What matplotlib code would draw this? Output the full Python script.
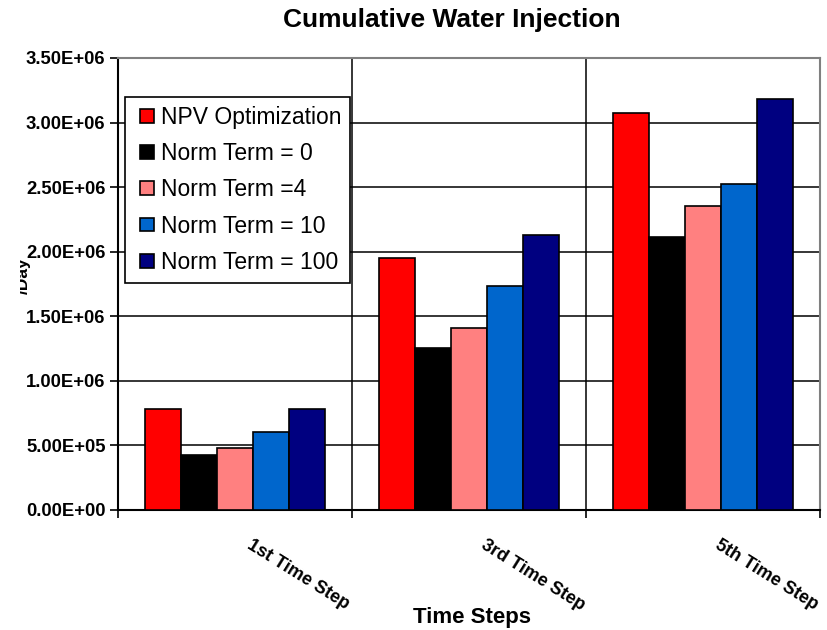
import matplotlib
matplotlib.use('Agg')
import matplotlib.pyplot as plt
from matplotlib.ticker import FuncFormatter, MultipleLocator
from matplotlib.transforms import Bbox
from matplotlib.patches import Rectangle
from matplotlib.container import BarContainer
from matplotlib.legend_handler import HandlerPatch, update_from_first_child
import numpy as np

plt.rcParams['font.family'] = ['Liberation Sans', 'DejaVu Sans']

steps = ['1st Time Step', '3rd Time Step', '5th Time Step']
series = ['NPV Optimization', 'Norm Term = 0', 'Norm Term =4',
          'Norm Term = 10', 'Norm Term = 100']
npv_opt = [7.8e5, 1.95e6, 3.07e6]
norm_0 = [4.25e5, 1.25e6, 2.115e6]
norm_4 = [4.75e5, 1.41e6, 2.355e6]
norm_10 = [6.0e5, 1.73e6, 2.525e6]
norm_100 = [7.8e5, 2.13e6, 3.18e6]
colors = ['#FF0000', '#000000', '#FF8080', '#0066CC', '#000080']


def square_patch(legend, orig_handle, xdescent, ydescent, width, height, fontsize):
    # small square key pushed to the right end of the handle area
    return Rectangle((width - height - xdescent, -ydescent), height, height)


fig = plt.figure(figsize=(8.27, 6.3), dpi=100)
ax = fig.add_axes([118 / 827, 1 - 509.6 / 630, 702 / 827, 451.6 / 630])

x = np.arange(len(steps))
w = 0.154
for i, (vals, name) in enumerate(zip([npv_opt, norm_0, norm_4, norm_10, norm_100], series)):
    ax.bar(x + (i - 2) * w, vals, w, color=colors[i], edgecolor='black',
           linewidth=1.2, label=name, zorder=3)

ax.set_xlim(-0.5, 2.5)
ax.set_ylim(0, 3.5e6)
ax.yaxis.set_major_locator(MultipleLocator(5e5))
ax.yaxis.set_major_formatter(FuncFormatter(lambda v, p: '%.2E' % v))
ax.grid(axis='y', color='black', linewidth=1.1, zorder=0)

# category boundaries: tick marks and vertical grid lines
ax.set_xticks([-0.5, 0.5, 1.5, 2.5])
ax.set_xticklabels([])
for b in [0.5, 1.5]:
    ax.axvline(b, color='black', linewidth=1.1, zorder=0)
ax.tick_params(axis='x', length=6, width=1.2, color='black')
ax.tick_params(axis='y', length=6, width=1.2, pad=3, labelsize=13.3)
for t in ax.get_yticklabels():
    t.set_fontweight('bold')

for i, s in enumerate(steps):
    ax.annotate(s, xy=(i, 0), xycoords=('data', 'axes fraction'),
                xytext=(9, -27), textcoords='offset pixels',
                rotation=-32, ha='left', va='top',
                fontsize=13, fontweight='bold')

for side in ['left', 'bottom']:
    ax.spines[side].set_color('black')
    ax.spines[side].set_linewidth(1.5)
for side in ['top', 'right']:
    ax.spines[side].set_color('#808080')
    ax.spines[side].set_linewidth(1.5)

leg = ax.legend(loc='upper left', bbox_to_anchor=(0.01, 0.914), borderaxespad=0,
                fontsize=16.5, frameon=True, fancybox=False, shadow=False,
                handlelength=0.85, handleheight=0.55, handletextpad=0.3,
                labelspacing=0.575, borderpad=0.4,
                handler_map={BarContainer: HandlerPatch(
                    patch_func=square_patch, update_func=update_from_first_child)})
leg.get_frame().set_edgecolor('black')
leg.get_frame().set_linewidth(1.2)
leg.get_frame().set_alpha(1)

fig.text(452 / 827, 1 - 20 / 630, 'Cumulative Water Injection', ha='center',
         va='center', fontsize=19, fontweight='bold')
fig.text(472 / 827, 1 - 618 / 630, 'Time Steps', ha='center', va='center',
         fontsize=16, fontweight='bold')
ylab = fig.text(23 / 827, 1 - 276 / 630, '/Day', ha='center', va='center',
                rotation=90, fontsize=12.5, fontweight='bold')
# the axis title sits partly outside the visible area on the left
ylab.set_clip_box(Bbox.from_extents(20, 0, 827, 630))
ylab.set_clip_on(True)

fig.savefig('out.png', dpi=100)
